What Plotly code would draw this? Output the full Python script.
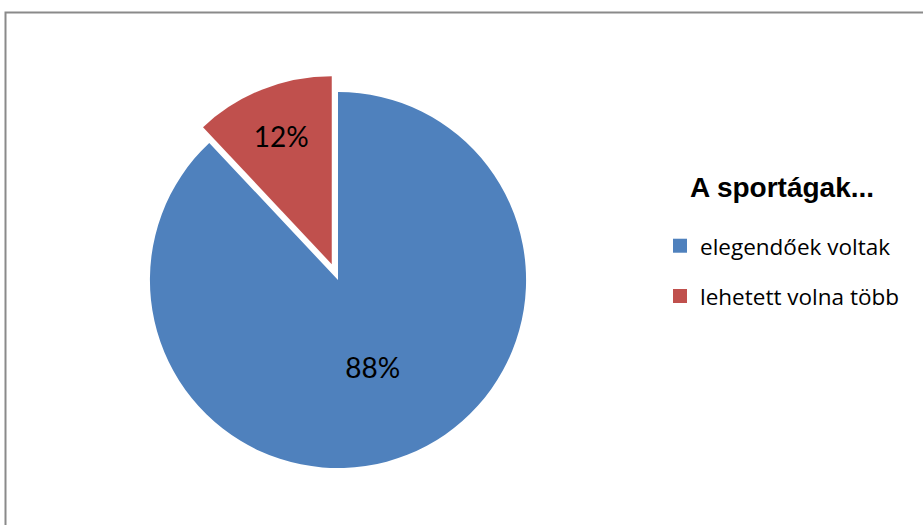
import plotly.graph_objects as go

categories = ["elegendőek voltak", "lehetett volna több"]
values = [88, 12]
colors = ["#4F81BD", "#C0504D"]
pulls = [0, 0.09]
legend_title = "A sportágak..."

W, H = 923, 525
cx, cy, half = 338, 280, 205

fig = go.Figure()
fig.add_trace(go.Pie(
    labels=categories, values=values, sort=False, direction="clockwise", rotation=0,
    marker=dict(colors=colors, line=dict(width=0)), pull=pulls,
    texttemplate="%{percent:.0%}", textposition="inside", insidetextorientation="horizontal",
    textfont=dict(family="Lato", size=28, color="black"),
    domain=dict(x=[(cx - half) / W, (cx + half) / W], y=[1 - (cy + half) / H, 1 - (cy - half) / H]),
    showlegend=False, hoverinfo="label+percent",
))
for i, (c, col) in enumerate(zip(categories, colors)):
    fig.add_trace(go.Scatter(x=[None], y=[None], mode="markers", name=c, legendgroup=f"g{i}",
                             marker=dict(symbol="square", size=14, color=col)))

fig.update_layout(
    width=W, height=H, margin=dict(l=0, r=0, t=0, b=0),
    paper_bgcolor="white", plot_bgcolor="white",
    xaxis=dict(visible=False), yaxis=dict(visible=False),
    legend=dict(
        x=660 / W, xanchor="left", y=1 - 170 / H, yanchor="top",
        title=dict(text="<span style='font-size:28px'><b>" + legend_title + "</b></span><br> ",
                   side="top center",
                   font=dict(family="Liberation Sans", size=21, color="black")),
        font=dict(family="Open Sans", size=22.5, color="black"),
        tracegroupgap=18, bgcolor="rgba(0,0,0,0)",
    ),
    shapes=[dict(type="rect", xref="paper", yref="paper",
                 x0=5.5 / W, x1=1.05, y0=-0.05, y1=1 - 12.5 / H,
                 line=dict(color="#8a8a8a", width=2), fillcolor="rgba(0,0,0,0)")],
)
fig.write_html("out.html", config={"displayModeBar": False},
               post_script="document.body.style.margin='0px';")
